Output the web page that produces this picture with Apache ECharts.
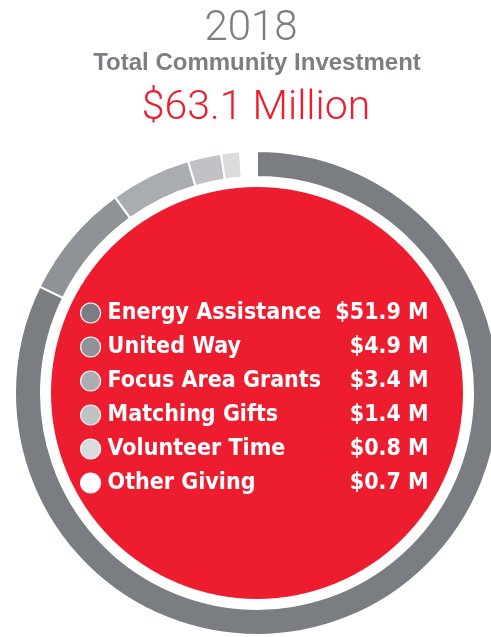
<!DOCTYPE html>
<html>
<head>
<meta charset="utf-8">
<script src="https://cdn.jsdelivr.net/npm/echarts@6/dist/echarts.min.js"></script>
<style>
  html, body { margin: 0; padding: 0; background: #fff; }
  #chart { width: 491px; height: 637px; }
</style>
</head>
<body>
<div id="chart"></div>
<script>
// categories and values ($ millions)
const categories = ['Energy Assistance', 'United Way', 'Focus Area Grants', 'Matching Gifts', 'Volunteer Time', 'Other Giving'];
const values = [51.9, 4.9, 3.4, 1.4, 0.8, 0.7];
const valueLabels = ['$51.9 M', '$4.9 M', '$3.4 M', '$1.4 M', '$0.8 M', '$0.7 M'];
const colors = ['#7a7d82', '#8f9297', '#a9acb0', '#c0c2c5', '#dadbdd', '#ffffff'];
const totalLabel = '$63.1 Million';

const chart = echarts.init(document.getElementById('chart'));
const center = [257, 393];
const narrow = "'Liberation Sans Narrow', 'DejaVu Sans Condensed', 'Arial Narrow', sans-serif";

const option = {
  backgroundColor: '#fff',
  animation: false,
  graphic: [
    {
      type: 'text', x: 251, y: 29,
      style: { text: '2018', font: '300 42px Roboto, sans-serif', fill: '#7b7e83', textAlign: 'center', textVerticalAlign: 'middle' }
    },
    {
      type: 'text', x: 257, y: 63,
      style: { text: 'Total Community Investment', font: 'bold 24px "Liberation Sans", Arial, sans-serif', fill: '#7b7e83', textAlign: 'center', textVerticalAlign: 'middle' }
    },
    {
      type: 'text', x: 256, y: 109,
      style: { text: totalLabel, font: '300 41px Roboto, sans-serif', fill: '#ed1c2e', textAlign: 'center', textVerticalAlign: 'middle' }
    }
  ],
  legend: {
    orient: 'vertical',
    left: 75,
    top: 295,
    icon: 'circle',
    itemWidth: 20,
    itemHeight: 20,
    itemGap: 8,
    selectedMode: false,
    data: categories,
    itemStyle: { borderColor: '#ffffff', borderWidth: 1.2 },
    formatter: function (name) {
      const i = categories.indexOf(name);
      return '{n|' + name + '}{v|' + valueLabels[i] + '}';
    },
    textStyle: {
      color: '#fff',
      fontFamily: narrow,
      fontWeight: 'bold',
      fontSize: 23,
      lineHeight: 26,
      rich: {
        n: { color: '#fff', fontFamily: narrow, fontWeight: 'bold', fontSize: 23, width: 222, padding: [0, 0, 0, 2] },
        v: { color: '#fff', fontFamily: narrow, fontWeight: 'bold', fontSize: 23, width: 99, align: 'right' }
      }
    }
  },
  series: [
    {
      name: 'background',
      type: 'pie',
      center: center,
      radius: [0, 206],
      silent: true,
      label: { show: false },
      labelLine: { show: false },
      itemStyle: { color: '#ed1c2e' },
      data: [{ value: 1, name: '' }],
      legendHoverLink: false
    },
    {
      name: 'Total Community Investment',
      type: 'pie',
      center: center,
      radius: [216, 242],
      startAngle: 90,
      clockwise: true,
      silent: true,
      label: { show: false },
      labelLine: { show: false },
      itemStyle: { borderColor: '#ffffff', borderWidth: 2 },
      data: categories.map(function (c, i) {
        return { name: c, value: values[i], itemStyle: { color: colors[i] } };
      })
    }
  ]
};

chart.setOption(option);
</script>
</body>
</html>
